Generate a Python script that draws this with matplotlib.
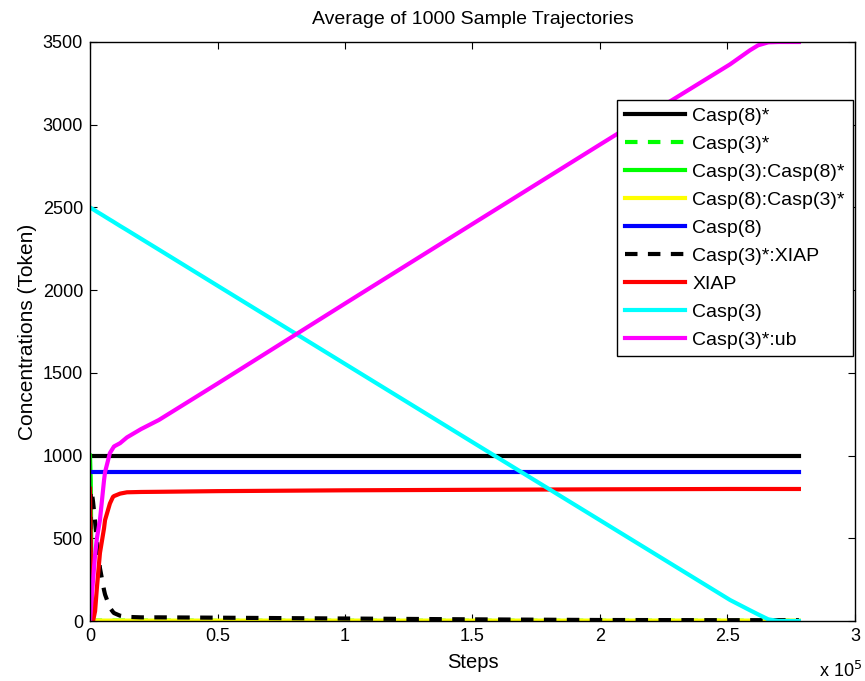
import matplotlib.pyplot as plt
import numpy as np

plt.rcParams['font.family'] = ['Liberation Sans', 'DejaVu Sans']

# species trajectories (steps, tokens)
labels = ['Casp(8)*', 'Casp(3)*', 'Casp(3):Casp(8)*', 'Casp(8):Casp(3)*', 'Casp(8)',
          'Casp(3)*:XIAP', 'XIAP', 'Casp(3)', 'Casp(3)*:ub']
colors = ['black', '#00ff00', '#00ff00', '#ffff00', '#0000ff', 'black', '#ff0000', '#00ffff', '#ff00ff']
styles = ['-', '--', '-', '-', '-', '--', '-', '-', '-']

steps = [0, 300, 700, 1200, 2000, 2700, 3900, 5500, 5900, 7800, 9000, 9400, 11800,
         14500, 20000, 27000, 50000, 100000, 150000, 200000, 251000, 258800, 262000,
         266000, 270000, 278000]

casp8_act = [1000, 1000, 1000, 1000, 1000, 1000, 1000, 1000, 1000, 1000, 1000, 1000, 1000,
             1000, 1000, 1000, 1000, 1000, 1000, 1000, 1000, 1000, 1000, 1000, 1000, 1000]
casp3_act = [0, 5, 3, 2, 2, 2, 2, 2, 2, 2, 2, 2, 2,
             2, 2, 2, 1, 1, 1, 1, 1, 1, 1, 1, 1, 1]
casp3_casp8 = [1000, 850, 0, 0, 0, 0, 0, 0, 0, 0, 0, 0, 0,
               0, 0, 0, 0, 0, 0, 0, 0, 0, 0, 0, 0, 0]
casp8_casp3 = [0, 2, 2, 2, 2, 2, 2, 2, 2, 2, 2, 2, 2,
               2, 2, 2, 2, 2, 2, 2, 2, 2, 2, 2, 2, 2]
casp8 = [900, 900, 900, 900, 900, 900, 900, 900, 900, 900, 900, 900, 900,
         900, 900, 900, 900, 900, 900, 900, 900, 900, 900, 900, 900, 900]
casp3_xiap = [0, 790, 780, 720, 600, 490, 320, 187, 160, 80, 55, 48, 32,
              25, 22, 22, 20, 15, 10, 6, 5, 5, 5, 5, 5, 5]
xiap = [800, 400, 30, 0, 60, 200, 411, 560, 610, 710, 750, 755, 770,
        778, 780, 781, 785, 790, 793, 796, 798, 798, 798, 798, 798, 798]
casp3 = [2500, 2497, 2493, 2489, 2481, 2474, 2463, 2448, 2444, 2426, 2415, 2411, 2388,
         2363, 2311, 2245, 2027, 1554, 1081, 609, 127, 65, 40, 10, 0, 0]
casp3_ub = [0, 60, 150, 250, 400, 500, 610, 850, 900, 1015, 1045, 1055, 1075,
            1110, 1160, 1215, 1435, 1919, 2400, 2880, 3365, 3450, 3480, 3498, 3500, 3500]

series = [casp8_act, casp3_act, casp3_casp8, casp8_casp3, casp8,
          casp3_xiap, xiap, casp3, casp3_ub]

fig = plt.figure(figsize=(8.65, 6.81), dpi=100)
ax = fig.add_axes([90 / 865, 60 / 681, 765 / 865, 579 / 681])

for vals, lab, c, ls in zip(series, labels, colors, styles):
    if ls == '--':
        ax.plot(steps, vals, color=c, linestyle=ls, linewidth=3, dashes=(3, 2.5), label=lab)
    else:
        ax.plot(steps, vals, color=c, linestyle=ls, linewidth=3, label=lab)

ax.set_xlim(0, 300000)
ax.set_ylim(0, 3500)
xt = np.arange(0, 300001, 50000)
ax.set_xticks(xt)
ax.set_xticklabels(['0', '0.5', '1', '1.5', '2', '2.5', '3'])
ax.set_yticks(np.arange(0, 3501, 500))
ax.tick_params(direction='in', top=True, right=True, length=5, labelsize=13, pad=5)
for s in ax.spines.values():
    s.set_linewidth(1)

ax.set_title('Average of 1000 Sample Trajectories', fontsize=14, pad=13)
ax.set_xlabel('Steps', fontsize=14.5, labelpad=6)
ax.set_ylabel('Concentrations (Token)', fontsize=15, labelpad=4)
fig.text(862 / 865, 1 - 681 / 681, 'x 10$^5$', fontsize=13, ha='right', va='bottom')

leg = ax.legend(loc='upper right', bbox_to_anchor=(0.997, 0.90), borderaxespad=0,
                fontsize=14, handlelength=3.1, labelspacing=0.53, fancybox=False,
                edgecolor='black', framealpha=1, borderpad=0.4, handletextpad=0.36)
leg.get_frame().set_linewidth(1)

fig.savefig('out.png', dpi=100)
